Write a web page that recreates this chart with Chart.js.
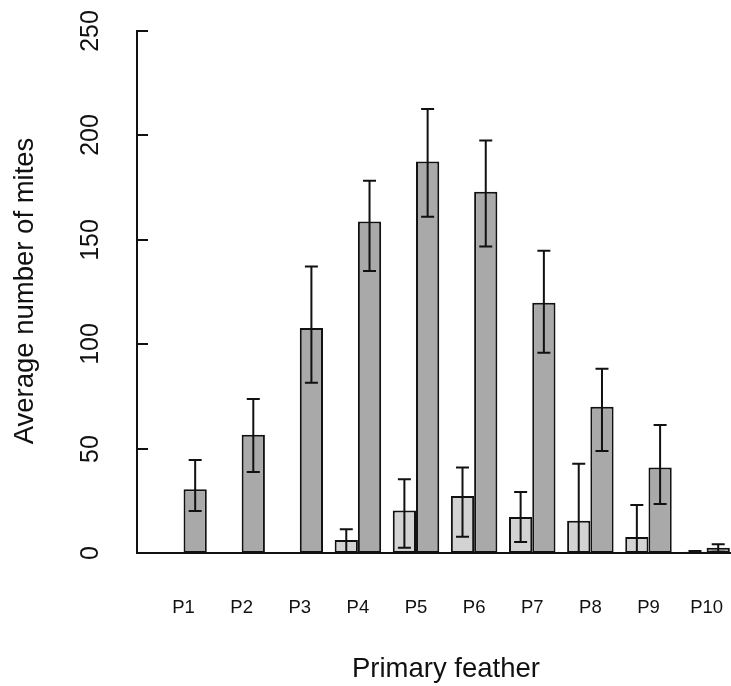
<!DOCTYPE html>
<html>
<head>
<meta charset="utf-8">
<script src="https://cdn.jsdelivr.net/npm/chart.js@4/dist/chart.umd.min.js"></script>
<style>
  html, body { margin: 0; padding: 0; background: #ffffff; }
  #wrap { width: 731px; height: 686px; }
</style>
</head>
<body>
<div id="wrap"><canvas id="chart" width="731" height="686"></canvas></div>
<script>
// Primary feathers along the wing
const categories = ['P1', 'P2', 'P3', 'P4', 'P5', 'P6', 'P7', 'P8', 'P9', 'P10'];

// First group (light bars): mean mites per feather and interval bounds
const lightMeans = [0, 0, 0, 6.2, 20.3, 27.3, 17.3, 15.5, 7.7, 0.6];
const lightLower = [0, 0, 0, 0.1, 2.5, 7.8, 5.3, 0, 0, 0.2];
const lightUpper = [0, 0, 0, 11.4, 35.3, 40.9, 29.2, 42.8, 23.0, 1.0];

// Second group (dark bars)
const darkMeans = [30.5, 56.6, 107.8, 158.8, 187.5, 173.0, 119.8, 70.0, 40.9, 2.5];
const darkLower = [20.1, 38.8, 81.5, 135.0, 161.0, 146.8, 95.9, 48.9, 23.5, 0.6];
const darkUpper = [44.6, 73.8, 137.2, 178.3, 212.7, 197.5, 144.7, 88.2, 61.3, 4.2];

// Value axis tick labels
const yTicks = [0, 50, 100, 150, 200, 250];

const FONT = '"Liberation Sans", Arial, Helvetica, sans-serif';

const toPoints = vals => vals.map((v, i) => ({ x: i + 1, y: v }));

// Error bars drawn from the interval arrays through the chart's scales
const errorBars = {
  id: 'errorBars',
  afterDatasetsDraw(chart) {
    const ctx = chart.ctx;
    const yScale = chart.scales.y;
    chart.data.datasets.forEach((ds, di) => {
      const meta = chart.getDatasetMeta(di);
      meta.data.forEach((bar, i) => {
        const lo = ds.lower[i], hi = ds.upper[i];
        if (hi === lo) return;
        const yLo = yScale.getPixelForValue(lo);
        const yHi = yScale.getPixelForValue(hi);
        const x = bar.x;
        const cap = 6.5;
        ctx.save();
        ctx.strokeStyle = '#111111';
        ctx.lineWidth = 2;
        ctx.beginPath();
        ctx.moveTo(x, yLo); ctx.lineTo(x, yHi);
        ctx.moveTo(x - cap, yHi); ctx.lineTo(x + cap, yHi);
        ctx.moveTo(x - cap, yLo); ctx.lineTo(x + cap, yLo);
        ctx.stroke();
        ctx.restore();
      });
    });
  }
};

// Inward tick marks, rotated value labels, category labels and axis titles
const axisText = {
  id: 'axisText',
  afterDraw(chart) {
    const ctx = chart.ctx;
    const area = chart.chartArea;
    const xScale = chart.scales.x;
    const yScale = chart.scales.y;
    ctx.save();
    ctx.strokeStyle = '#111111';
    ctx.lineWidth = 2;
    ctx.fillStyle = '#111111';

    yTicks.forEach(t => {
      const py = Math.round(yScale.getPixelForValue(t));
      ctx.beginPath();
      ctx.moveTo(area.left, py);
      ctx.lineTo(area.left + 11, py);
      ctx.stroke();
      ctx.save();
      ctx.translate(97.5, py);
      ctx.rotate(-Math.PI / 2);
      ctx.font = '25px ' + FONT;
      ctx.textAlign = 'center';
      ctx.textBaseline = 'alphabetic';
      ctx.fillText(String(t), 0, 0);
      ctx.restore();
    });

    ctx.font = '18.5px ' + FONT;
    ctx.textAlign = 'center';
    ctx.textBaseline = 'alphabetic';
    categories.forEach((c, i) => {
      ctx.fillText(c, xScale.getPixelForValue(i + 1), 613);
    });

    ctx.font = '27.5px ' + FONT;
    ctx.fillText('Primary feather', 446, 676.5);

    ctx.save();
    ctx.translate(33, 291);
    ctx.rotate(-Math.PI / 2);
    ctx.fillText('Average number of mites', 0, 0);
    ctx.restore();

    ctx.restore();
  }
};

new Chart(document.getElementById('chart'), {
  type: 'bar',
  data: {
    datasets: [
      {
        label: 'light',
        data: toPoints(lightMeans),
        lower: lightLower,
        upper: lightUpper,
        backgroundColor: '#d3d3d3',
        borderColor: '#111111',
        borderWidth: 2,
        borderSkipped: false
      },
      {
        label: 'dark',
        data: toPoints(darkMeans),
        lower: darkLower,
        upper: darkUpper,
        backgroundColor: '#a9a9a9',
        borderColor: '#111111',
        borderWidth: 2,
        borderSkipped: false
      }
    ]
  },
  options: {
    responsive: false,
    animation: false,
    layout: { padding: { left: 137, top: 31, right: 0, bottom: 133 } },
    categoryPercentage: 0.8,
    barPercentage: 1.0,
    plugins: {
      legend: { display: false },
      tooltip: { enabled: false }
    },
    scales: {
      x: {
        type: 'linear',
        offset: false,
        min: 0.199,
        max: 10.42,
        grid: { display: false, drawTicks: false, offset: false },
        ticks: { display: false },
        border: { display: true, color: '#111111', width: 2 }
      },
      y: {
        min: 0,
        max: 250,
        grid: { display: false, drawTicks: false },
        ticks: { display: false },
        border: { display: true, color: '#111111', width: 2 }
      }
    }
  },
  plugins: [errorBars, axisText]
});
</script>
</body>
</html>
